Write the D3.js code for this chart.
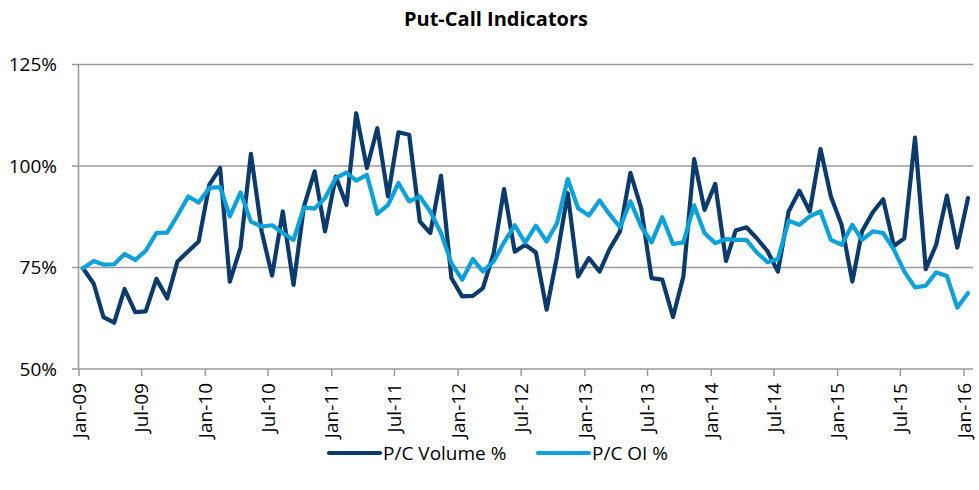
<!DOCTYPE html>
<html>
<head>
<meta charset="utf-8">
<script src="https://cdn.jsdelivr.net/npm/d3@7"></script>
<style>
html,body{margin:0;padding:0;background:#fff;}
svg{display:block;font-family:"Open Sans","Liberation Sans",sans-serif;}
</style>
</head>
<body>
<svg id="chart" width="979" height="490"></svg>
<script>
const title = "Put-Call Indicators";
const seriesNames = ["P/C Volume %", "P/C OI %"];
const startMonth = "2009-01";
const yTicks = [50, 75, 100, 125];
const volume = [
74.8,71.0,62.8,61.4,69.7,64.0,64.2,72.2,67.4,76.5,79.0,81.4,
95.4,99.5,71.5,79.9,103.0,83.9,73.0,88.8,70.7,90.0,98.7,83.9,
97.4,90.4,113.0,99.5,109.3,92.5,108.3,107.7,86.3,83.5,97.6,72.4,
67.9,68.0,69.9,78.5,94.3,78.9,80.6,78.7,64.6,77.7,93.3,72.8,
77.3,74.0,79.4,83.9,98.3,89.6,72.4,72.0,62.8,72.8,101.7,89.2,
95.6,76.6,84.1,84.9,82.2,79.0,74.0,88.8,93.9,88.8,104.2,92.5,
85.5,71.5,83.9,88.6,91.8,80.3,82.2,107.0,74.6,80.6,92.7,79.9,
92.1];
const openInterest = [
74.8,76.6,75.7,75.8,78.3,76.9,79.1,83.5,83.6,87.8,92.5,91.0,
94.6,94.8,87.6,93.5,86.3,85.1,85.4,83.5,81.8,89.8,89.5,92.1,
97.0,98.4,96.4,97.8,88.2,90.4,95.8,91.3,92.5,88.8,83.5,76.1,
72.0,77.1,74.0,76.5,81.2,85.4,81.1,85.3,81.4,85.9,96.8,89.6,
87.8,91.5,88.2,84.9,91.3,85.1,81.2,87.4,80.8,81.2,90.3,83.5,
81.0,82.0,81.8,81.8,78.7,76.3,77.1,86.5,85.5,87.6,88.8,81.8,
80.6,85.5,81.8,83.9,83.5,79.4,74.0,70.1,70.5,73.8,72.9,65.1,
68.7];

const colors = ["#0b3a6d", "#0aa1dd"];
const svg = d3.select("#chart");
const start = d3.utcParse("%Y-%m")(startMonth);
const dates = volume.map((_, i) => d3.utcDay.offset(d3.utcMonth.offset(start, i), 13));

const x = d3.scaleUtc()
  .domain([start, d3.utcMonth.offset(start, 84)])
  .range([78.5, 963.5]);
const y = d3.scaleLinear().domain([50, 125]).range([369, 64.5]);

// gridlines
svg.append("g")
  .selectAll("line").data(yTicks).join("line")
  .attr("x1", 72).attr("x2", 973)
  .attr("y1", d => y(d)).attr("y2", d => y(d))
  .attr("stroke", "#9a9a9a").attr("stroke-width", 1.5);

// y axis line
svg.append("line")
  .attr("x1", 78.5).attr("x2", 78.5)
  .attr("y1", y(125)).attr("y2", y(50))
  .attr("stroke", "#9a9a9a").attr("stroke-width", 1.5);

// y labels
svg.append("g")
  .selectAll("text").data(yTicks).join("text")
  .attr("x", 57).attr("y", d => y(d))
  .attr("dy", "0.35em")
  .attr("text-anchor", "end")
  .attr("font-size", 19)
  .attr("fill", "#000")
  .text(d => d + "%");

// x axis
const xAxis = d3.axisBottom(x)
  .ticks(d3.utcMonth.every(6))
  .tickFormat(d3.utcFormat("%b-%y"))
  .tickSize(7).tickSizeOuter(0);
const gx = svg.append("g").attr("transform", `translate(0,${y(50)})`).call(xAxis);
gx.select(".domain").remove();
gx.selectAll(".tick line").attr("stroke", "#9a9a9a").attr("stroke-width", 1.5);
gx.selectAll(".tick text")
  .attr("font-family", "Open Sans, Liberation Sans, sans-serif")
  .attr("font-size", 19)
  .attr("fill", "#000")
  .attr("transform", "rotate(-90)")
  .attr("text-anchor", "end")
  .attr("x", -14).attr("y", 0).attr("dy", "0.35em");

// lines
const line = d3.line().x((d, i) => x(dates[i])).y(d => y(d));
[volume, openInterest].forEach((s, k) => {
  svg.append("path").datum(s)
    .attr("d", line)
    .attr("fill", "none")
    .attr("stroke", colors[k])
    .attr("stroke-width", 4.2)
    .attr("stroke-linejoin", "round")
    .attr("stroke-linecap", "round");
});

// title
svg.append("text")
  .attr("x", 496).attr("y", 26)
  .attr("text-anchor", "middle")
  .attr("font-size", 20).attr("font-weight", "bold")
  .attr("fill", "#000")
  .text(title);

// legend
const legendPos = [329, 538];
const lg = svg.append("g");
seriesNames.forEach((n, k) => {
  lg.append("line")
    .attr("x1", legendPos[k]).attr("x2", legendPos[k] + 51)
    .attr("y1", 453).attr("y2", 453)
    .attr("stroke", colors[k]).attr("stroke-width", 4.2)
    .attr("stroke-linecap", "round");
  lg.append("text")
    .attr("x", legendPos[k] + 54).attr("y", 453).attr("dy", "0.35em")
    .attr("font-size", 19).attr("fill", "#000")
    .text(n);
});
</script>
</body>
</html>
